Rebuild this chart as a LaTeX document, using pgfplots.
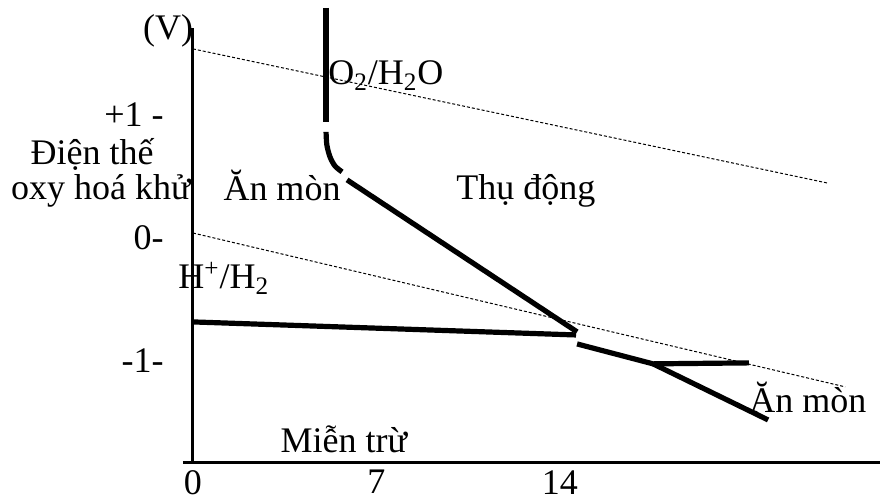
\documentclass[border=0pt]{standalone}
\usepackage{fontspec}
\setmainfont{Liberation Serif}
\usepackage{pgfplots}
\pgfplotsset{compat=1.18}
\begin{document}
\fontsize{18}{22}\selectfont
\begin{tikzpicture}[font=\fontsize{18}{22}\selectfont]
\begin{axis}[name=ax, scale only axis, width=348.5pt, height=217.5pt,
  xmin=-0.38, xmax=26.22, ymin=-1.83, ymax=1.707,
  axis x line=bottom, axis y line=middle,
  axis line style={-, line width=1.5pt},
  xtick={0,7,14}, xticklabels={0,7,14},
  ytick={-1,0,1}, yticklabels={{-1-\hspace{5pt}},{0-\hspace{1.5pt}},{+1 -}},
  major tick length=0pt,
  xticklabel style={anchor=north, inner sep=0pt, yshift=-3.5pt},
  yticklabel style={anchor=east, inner sep=0pt, xshift=-14.5pt},
  clip=false]
% water stability lines (dashed)
\addplot[black, line width=0.5pt, dash pattern=on 1.5pt off 1pt] coordinates {(0,1.537) (24.2,0.447)};
\addplot[black, line width=0.5pt, dash pattern=on 1.5pt off 1pt] coordinates {(0,0.04) (24.89,-1.211)};
% boundaries
\addplot[black, line width=2.6pt] coordinates {(5.08,1.87) (5.08,0.943)};
\addplot[black, line width=2.6pt, smooth] coordinates {(5.08,0.862) (5.11,0.756) (5.23,0.659) (5.42,0.585) (5.69,0.537)};
\addplot[black, line width=2.6pt] coordinates {(5.88,0.472) (14.66,-0.764)};
\addplot[black, line width=2.6pt] coordinates {(0,-0.683) (14.62,-0.789)};
\addplot[black, line width=2.6pt] coordinates {(14.66,-0.862) (17.56,-1.024) (21.22,-1.016)};
\addplot[black, line width=2.6pt] coordinates {(17.56,-1.024) (21.95,-1.480)};
% labels
\node[anchor=base west, inner sep=0pt] at (axis cs:5.15,1.244) {O\textsubscript{2}/H\textsubscript{2}O};
\node[anchor=base, inner sep=0pt] at (axis cs:3.40,0.301) {Ăn mòn};
\node[anchor=base, inner sep=0pt] at (axis cs:12.71,0.309) {Thụ động};
\node[anchor=base, inner sep=0pt] at (axis cs:23.47,-1.423) {Ăn mòn};
\node[anchor=base, inner sep=0pt] at (axis cs:5.76,-1.748) {Miễn trừ};
\node[anchor=base west, inner sep=0pt] at (axis cs:-0.57,-0.415) {H\textsuperscript{+}/H\textsubscript{2}};
\node[anchor=base, inner sep=0pt] at (axis cs:-0.95,1.61) {(V)};
\node[anchor=base, inner sep=0pt] at (axis cs:-3.85,0.593) {Điện thế};
\node[anchor=base, inner sep=0pt] at (axis cs:-3.51,0.309) {oxy hoá khử};
\end{axis}
\pgfresetboundingbox
\path ([shift={(-91.5pt,-16.5pt)}]ax.south west) rectangle ([shift={(0pt,14pt)}]ax.north east);
\end{tikzpicture}
\end{document}
